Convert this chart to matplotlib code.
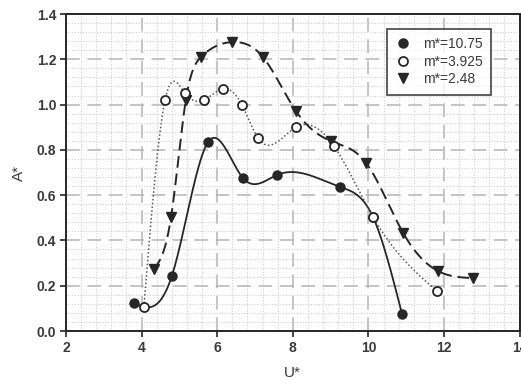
import numpy as np
import matplotlib
matplotlib.use("Agg")
import matplotlib.pyplot as plt
from matplotlib.ticker import MultipleLocator

# Data for the three mass ratios
u_heavy = [3.80, 4.80, 5.76, 6.68, 7.58, 9.25, 10.12, 10.89]
a_heavy = [0.124, 0.243, 0.835, 0.676, 0.689, 0.636, 0.504, 0.075]

u_mid = [4.06, 4.62, 5.15, 5.65, 6.15, 6.65, 7.08, 8.08, 9.09, 10.12, 11.81]
a_mid = [0.106, 1.02, 1.05, 1.02, 1.07, 1.00, 0.852, 0.90, 0.817, 0.504, 0.177]

u_light = [4.33, 4.78, 5.17, 5.57, 6.39, 7.21, 8.08, 9.01, 9.94, 10.92, 11.84, 12.77]
a_light = [0.274, 0.504, 1.02, 1.21, 1.276, 1.21, 0.972, 0.839, 0.742, 0.433, 0.265, 0.234]

labels = ["m*=10.75", "m*=3.925", "m*=2.48"]
x_ticks = [2, 4, 6, 8, 10, 12, 14]
y_ticks = [0.0, 0.2, 0.4, 0.6, 0.8, 1.0, 1.2, 1.4]


def natural_spline(x, y, n=400):
    x = np.asarray(x, float)
    y = np.asarray(y, float)
    m = len(x)
    h = np.diff(x)
    A = np.zeros((m, m))
    b = np.zeros(m)
    A[0, 0] = A[-1, -1] = 1.0
    for i in range(1, m - 1):
        A[i, i - 1] = h[i - 1]
        A[i, i] = 2 * (h[i - 1] + h[i])
        A[i, i + 1] = h[i]
        b[i] = 3 * ((y[i + 1] - y[i]) / h[i] - (y[i] - y[i - 1]) / h[i - 1])
    c = np.linalg.solve(A, b)
    xs = np.linspace(x[0], x[-1], n)
    idx = np.clip(np.searchsorted(x, xs) - 1, 0, m - 2)
    dx = xs - x[idx]
    hi = h[idx]
    bi = (y[idx + 1] - y[idx]) / hi - hi * (2 * c[idx] + c[idx + 1]) / 3
    di = (c[idx + 1] - c[idx]) / (3 * hi)
    ys = y[idx] + bi * dx + c[idx] * dx ** 2 + di * dx ** 3
    return xs, ys


plt.rcParams["font.family"] = ["Liberation Sans", "DejaVu Sans"]
ink = "#262626"

fig = plt.figure(figsize=(5.21, 3.84), dpi=100)
ax = fig.add_axes([0.1267, 0.138, 0.8706, 0.8255])

ax.set_xlim(2, 14)
ax.set_ylim(0, 1.4)
ax.xaxis.set_minor_locator(MultipleLocator(0.4))
ax.yaxis.set_minor_locator(MultipleLocator(0.04))
ax.set_xticks(x_ticks)
ax.set_yticks(y_ticks)
ax.set_xticklabels([str(t) for t in x_ticks])
ax.set_yticklabels([f"{t:.1f}" for t in y_ticks])

ax.grid(which="major", color="#b4b4b4", linestyle=(0, (9, 5)), linewidth=1.1)
ax.grid(which="minor", color="#cfcfcf", linestyle=(0, (1, 1.5)), linewidth=0.8)
ax.set_axisbelow(True)

ax.tick_params(which="major", direction="out", length=4, width=1.2,
               colors=ink, labelsize=10, pad=3)
ax.tick_params(which="minor", length=0)
for lab in ax.get_xticklabels() + ax.get_yticklabels():
    lab.set_fontweight("bold")
    lab.set_color("#3a3a3a")
for sp in ax.spines.values():
    sp.set_color(ink)
    sp.set_linewidth(1.4)

# smooth curves through each series
xs, ys = natural_spline(u_heavy, a_heavy)
ax.plot(xs, ys, color=ink, lw=1.3, ls="-", zorder=3)
xs, ys = natural_spline(u_mid, a_mid)
ax.plot(xs, ys, color="#555555", lw=1.1, ls=(0, (1, 1.5)), zorder=3)
xs, ys = natural_spline(u_light, a_light)
ax.plot(xs, ys, color=ink, lw=1.4, ls=(0, (6, 3)), zorder=3)

# markers
h1, = ax.plot(u_heavy, a_heavy, "o", ms=6.5, mfc=ink, mec=ink, zorder=4, label=labels[0])
h2, = ax.plot(u_mid, a_mid, "o", ms=6.5, mfc="white", mec=ink, mew=1.3, zorder=5, label=labels[1])
h3, = ax.plot(u_light, a_light, "v", ms=6.5, mfc=ink, mec=ink, zorder=4, label=labels[2])

leg = ax.legend(handles=[h1, h2, h3], loc="upper right",
                bbox_to_anchor=(0.937, 0.953), borderaxespad=0,
                frameon=True, fancybox=False,
                fontsize=10, handletextpad=0.8, borderpad=0.6,
                labelspacing=0.25, handlelength=1.2)
leg.get_frame().set_edgecolor(ink)
leg.get_frame().set_linewidth(1.3)
for t in leg.get_texts():
    t.set_color("#3a3a3a")

ax.set_xlabel("U*", fontsize=11, color="#3a3a3a", labelpad=8)
ax.set_ylabel("A*", fontsize=11, color="#3a3a3a", labelpad=8)

fig.savefig("out.png", dpi=100)
